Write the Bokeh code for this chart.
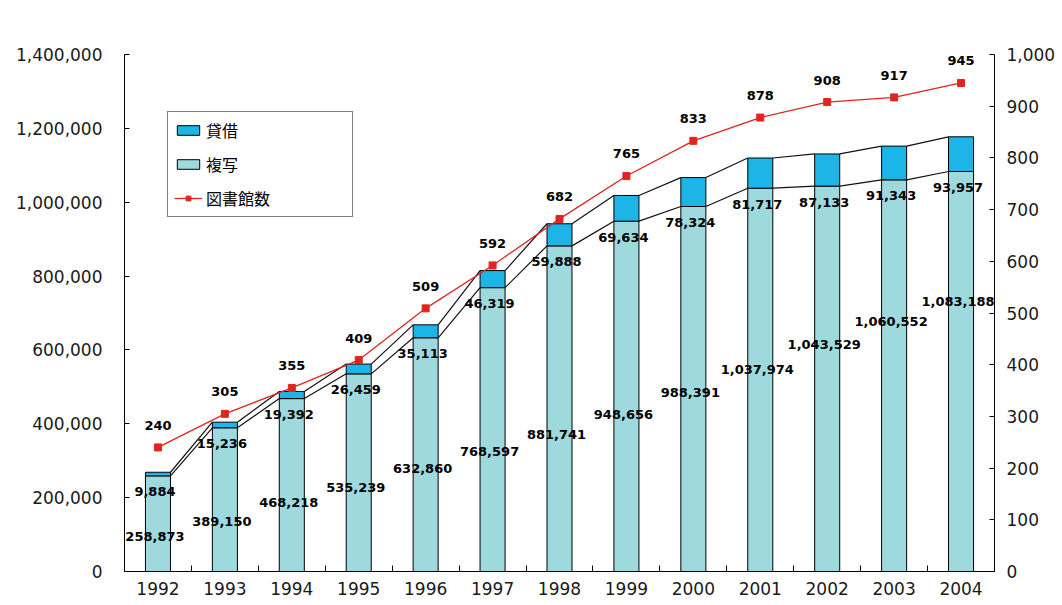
from bokeh.plotting import figure
from bokeh.models import (Range1d, LinearAxis, FixedTicker, NumeralTickFormatter,
                          ColumnDataSource, LabelSet, Legend, LegendItem)
from bokeh.core.properties import value
from bokeh.embed import file_html
from bokeh.resources import INLINE

# ---- data ----
years = ["1992", "1993", "1994", "1995", "1996", "1997", "1998",
         "1999", "2000", "2001", "2002", "2003", "2004"]
copies = [258873, 389150, 468218, 535239, 632860, 768597, 881741,
          948656, 988391, 1037974, 1043529, 1060552, 1083188]
loans = [9884, 15236, 19392, 26459, 35113, 46319, 59888,
         69634, 78324, 81717, 87133, 91343, 93957]
libraries = [240, 305, 355, 409, 509, 592, 682, 765, 833, 878, 908, 917, 945]
left_ticks = [0, 200000, 400000, 600000, 800000, 1000000, 1200000, 1400000]
right_ticks = [0, 100, 200, 300, 400, 500, 600, 700, 800, 900, 1000]

# ---- style ----
copy_label_frac = [0.366, 0.348, 0.399, 0.425, 0.441, 0.423, 0.421,
                   0.448, 0.490, 0.527, 0.589, 0.638, 0.675]
BAR_W = 0.374
COPY_COLOR = "#9ED9DD"
LOAN_COLOR = "#1DB4E8"
LINE_COLOR = "#E0251F"
AXIS_FONT = "DejaVu Sans"

n = len(years)
idx = list(range(n))
totals = [c + l for c, l in zip(copies, loans)]

src = ColumnDataSource(dict(
    x=idx, copies=copies, loans=loans, totals=totals, libraries=libraries,
    copy_lab=[f"{v:,}" for v in copies],
    loan_lab=[f"{v:,}" for v in loans],
    lib_lab=[str(v) for v in libraries],
    copy_y=[c * f for c, f in zip(copies, copy_label_frac)],
))

p = figure(frame_width=870, frame_height=517,
           x_range=Range1d(-0.5, n - 0.5), y_range=Range1d(0, 1400000),
           output_backend="svg", toolbar_location=None,
           min_border_left=124, min_border_top=54, min_border_right=10,
           min_border_bottom=5, background_fill_color="white",
           border_fill_color="white")
p.outline_line_color = None
p.grid.visible = False
p.extra_y_ranges = {"right": Range1d(0, 1000)}

# series lines between bar tops
seg = ColumnDataSource(dict(
    x0=[i + BAR_W / 2 for i in idx[:-1]], x1=[i + 1 - BAR_W / 2 for i in idx[:-1]],
    c0=copies[:-1], c1=copies[1:], t0=totals[:-1], t1=totals[1:]))
p.segment(x0="x0", y0="c0", x1="x1", y1="c1", source=seg, line_color="#111", line_width=1.2)
p.segment(x0="x0", y0="t0", x1="x1", y1="t1", source=seg, line_color="#111", line_width=1.2)

r_copy = p.vbar(x="x", width=BAR_W, bottom=0, top="copies", source=src,
                fill_color=COPY_COLOR, line_color="black", line_width=1)
r_loan = p.vbar(x="x", width=BAR_W, bottom="copies", top="totals", source=src,
                fill_color=LOAN_COLOR, line_color="black", line_width=1)

r_line = p.line(x="x", y="libraries", source=src, y_range_name="right",
                line_color=LINE_COLOR, line_width=1.3)
r_mark = p.scatter(x="x", y="libraries", source=src, y_range_name="right",
                   marker="square", size=7, fill_color=LINE_COLOR, line_color=LINE_COLOR)

# axes
p.yaxis.ticker = FixedTicker(ticks=left_ticks)
p.yaxis.formatter = NumeralTickFormatter(format="0,0")
ax_r = LinearAxis(y_range_name="right", ticker=FixedTicker(ticks=right_ticks),
                  formatter=NumeralTickFormatter(format="0,0"))
p.add_layout(ax_r, "right")

p.xaxis.ticker = FixedTicker(ticks=idx, minor_ticks=[i + 0.5 for i in range(-1, n)])
p.xaxis.major_label_overrides = {i: y for i, y in zip(idx, years)}

for ax in [p.xaxis[0], p.yaxis[0], ax_r]:
    ax.axis_line_color = "black"
    ax.axis_line_width = 1
    ax.major_tick_in = 5
    ax.major_tick_out = 0
    ax.minor_tick_line_color = None
    ax.major_label_text_font = AXIS_FONT
    ax.major_label_text_font_size = "17px"
    ax.major_label_text_color = "#1a1a1a"

p.yaxis[0].major_label_standoff = 22
ax_r.major_label_standoff = 12
xa = p.xaxis[0]
xa.major_tick_in = 0
xa.minor_tick_line_color = "black"
xa.minor_tick_in = 6
xa.minor_tick_out = 0
xa.major_label_standoff = 10

# data labels
lab_kw = dict(source=src, text_font=value(AXIS_FONT), text_font_size="13px",
              text_font_style="bold", text_color="black", text_align="center",
              text_baseline="middle", x_offset=-3)
p.add_layout(LabelSet(x="x", y="copy_y", text="copy_lab", **lab_kw))
p.add_layout(LabelSet(x="x", y="copies", text="loan_lab", y_offset=-16, **lab_kw))
lib_kw = dict(lab_kw, x_offset=0)
p.add_layout(LabelSet(x="x", y="libraries", text="lib_lab", y_range_name="right",
                      y_offset=22, **lib_kw))

legend = Legend(items=[
    LegendItem(label="貸借", renderers=[r_loan]),
    LegendItem(label="複写", renderers=[r_copy]),
    LegendItem(label="図書館数", renderers=[r_line, r_mark]),
], location=(43, 354), border_line_color="black", border_line_width=1.5,
    padding=6, spacing=10, margin=0, glyph_width=28, glyph_height=12,
    label_height=18, label_width=140, label_standoff=4,
    label_text_font="Noto Sans CJK JP", label_text_font_size="16px",
    label_text_color="black", background_fill_color="white", background_fill_alpha=1)
p.add_layout(legend)

open("out.html", "w").write(file_html(p, INLINE))
